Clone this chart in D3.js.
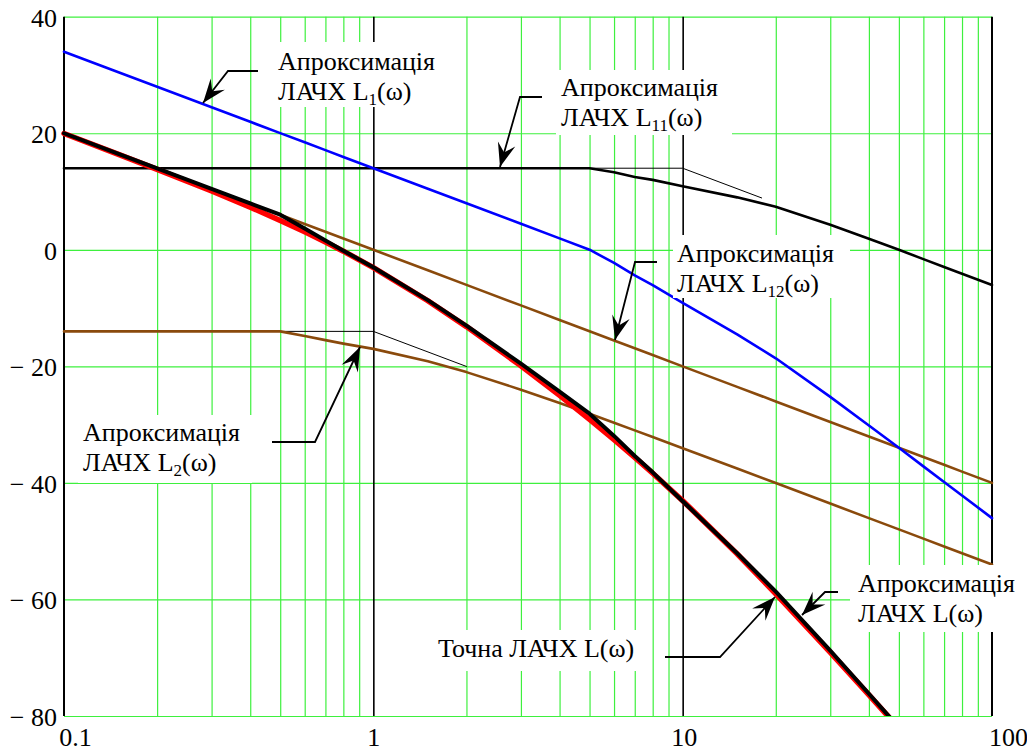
<!DOCTYPE html>
<html>
<head>
<meta charset="utf-8">
<script src="https://cdn.jsdelivr.net/npm/d3@7"></script>
<style>
  html, body { margin: 0; padding: 0; background: #fff; }
  svg { display: block; }
  text { font-family: "Liberation Serif", "Times New Roman", serif; fill: #000; }
</style>
</head>
<body>
<script>
// ---------------- DATA ----------------
const omega = [0.1,0.15,0.2,0.3,0.4,0.5,0.6,0.7,0.8,1,1.5,2,3,4,5,6,7,8,10,15,20,30,40,50,60,70,80,100];
// Approximation L1(ω) (blue)
const L1 = [34,30.48,27.98,24.46,21.96,20.02,18.44,17.10,15.94,14,10.48,7.98,4.46,1.96,0.02,-2.26,-4.4,-6.06,-9.1,-14.52,-18.62,-25.24,-30.14,-33.98,-37.16,-39.85,-42.16,-46.04];
// Approximation L11(ω) (black)
const L11 = [14,14,14,14,14,14,14,14,14,14,14,14,14,14,14,13.3,12.5,12.0,10.9,9.0,7.4,4.3,1.9,0.0,-1.6,-2.95,-4.1,-6.04];
// Approximation L12(ω) (brown)
const L12 = [20,16.48,13.98,10.46,7.96,6.02,4.44,3.10,1.94,0,-3.52,-6.02,-9.54,-12.04,-13.98,-15.56,-16.90,-18.06,-20,-23.52,-26.02,-29.54,-32.04,-33.98,-35.56,-36.90,-38.06,-40];
// Approximation L2(ω) (brown)
const L2 = [-14,-14,-14,-14,-14,-14,-14.8,-15.5,-16.1,-17.0,-19.12,-20.99,-24.0,-26.3,-28.15,-29.68,-30.99,-32.13,-34.04,-37.54,-40.03,-43.55,-46.04,-47.98,-49.56,-50.90,-52.06,-54.0];
// Approximation L(ω) (black, thick)
const Lapprox = [20,16.48,13.98,10.46,7.96,6.02,3.64,1.60,-0.16,-3.0,-8.64,-13.01,-19.54,-24.34,-28.13,-31.94,-35.39,-38.19,-43.14,-52.06,-58.65,-68.79,-76.18,-81.96,-86.72,-90.75,-94.22,-100.04];
// Exact L(ω) (red, thick)
const Lexact = [19.96,16.38,13.81,10.08,7.31,5.04,3.09,1.35,-0.24,-3.05,-8.74,-13.18,-19.91,-24.99,-29.10,-32.58,-35.62,-38.34,-43.05,-52.18,-59.04,-69.09,-76.38,-82.11,-86.8,-90.79,-94.25,-100.04];
// Asymptote segments (thin black)
const asymL11w = [5,10,18];
const asymL11v = [14,14,8.9];
const asymL2w = [0.5,1,2];
const asymL2v = [-14,-14,-20.02];

const xTicks = [0.1,1,10,100];
const xTickLabels = ["0.1","1","10","100"];
const yTicks = [40,20,0,-20,-40,-60,-80];
const yTickLabels = ["40","20","0","\u2212 20","\u2212 40","\u2212 60","\u2212 80"];
const xMinor = [0.2,0.3,0.4,0.5,0.6,0.7,0.8,0.9,2,3,4,5,6,7,8,9,20,30,40,50,60,70,80,90];
const xMajorBlack = [1,10];

(function () {
// ---------------- LAYOUT ----------------
const W = 1027, H = 753;
const pL = 64, pR = 992, pT = 16.7, pB = 716;
const svg = d3.select("body").append("svg").attr("width", W).attr("height", H);

const x = d3.scaleLog().domain([0.1, 100]).range([pL, pR]);
const y = d3.scaleLinear().domain([-80, 40]).range([pB, pT]);

const GREEN = "#3ef03e";

// grid: horizontal (green)
const gy = svg.append("g").attr("transform", `translate(${pL},0)`)
  .call(d3.axisLeft(y).tickValues(yTicks).tickSize(-(pR - pL)).tickFormat(""));
gy.select(".domain").remove();
gy.selectAll("line").attr("stroke", GREEN).attr("stroke-width", 1.2);

// grid: vertical minor (green)
const gx = svg.append("g").attr("transform", `translate(0,${pB})`)
  .call(d3.axisBottom(x).tickValues(xMinor).tickSize(-(pB - pT)).tickFormat(""));
gx.select(".domain").remove();
gx.selectAll("line").attr("stroke", GREEN).attr("stroke-width", 1.2);

// vertical major (black)
const gxm = svg.append("g").attr("transform", `translate(0,${pB})`)
  .call(d3.axisBottom(x).tickValues(xMajorBlack).tickSize(-(pB - pT)).tickFormat(""));
gxm.select(".domain").remove();
gxm.selectAll("line").attr("stroke", "#000").attr("stroke-width", 1.6);

// left & right axes (black)
svg.append("line").attr("x1", x(0.1)).attr("x2", x(0.1)).attr("y1", y(40)).attr("y2", y(-80))
  .attr("stroke", "#000").attr("stroke-width", 2);
svg.append("line").attr("x1", x(100)).attr("x2", x(100)).attr("y1", y(40)).attr("y2", y(-80))
  .attr("stroke", "#000").attr("stroke-width", 2);

// tick labels
const yl = svg.append("g").attr("transform", `translate(${pL},0)`)
  .call(d3.axisLeft(y).tickValues(yTicks).tickSize(0).tickPadding(7)
        .tickFormat((d, i) => yTickLabels[i]));
yl.select(".domain").remove();
yl.selectAll("text").attr("font-family", "Liberation Serif").attr("font-size", 26)
  .attr("dy", "0.36em");

const xOffsets = [11, 0, 1, 16];
const xl = svg.append("g").attr("transform", `translate(0,${pB})`)
  .call(d3.axisBottom(x).tickValues(xTicks).tickSize(0).tickPadding(12)
        .tickFormat((d, i) => xTickLabels[i]));
xl.select(".domain").remove();
xl.selectAll("text").attr("font-family", "Liberation Serif").attr("font-size", 26)
  .attr("dx", (d, i) => xOffsets[i]);

// ---------------- CURVES ----------------
svg.append("clipPath").attr("id", "plotclip").append("rect")
  .attr("x", pL - 3).attr("y", pT - 3).attr("width", pR - pL + 6).attr("height", pB - pT + 3);
const plot = svg.append("g").attr("clip-path", "url(#plotclip)");

const line = d3.line().x(d => x(d[0])).y(d => y(d[1]));
const zip = (ws, vs) => ws.map((w, i) => [w, vs[i]]);

function drawCurve(vals, color, width, ws) {
  plot.append("path").datum(zip(ws || omega, vals)).attr("d", line)
    .attr("fill", "none").attr("stroke", color).attr("stroke-width", width)
    .attr("stroke-linejoin", "round").attr("stroke-linecap", "round");
}
const BROWN = "#8a4a0c";
drawCurve(asymL11v, "#000", 1, asymL11w);
drawCurve(asymL2v, "#000", 1, asymL2w);
drawCurve(L2, BROWN, 2.6);
drawCurve(L12, BROWN, 2.6);
drawCurve(L11, "#000", 2.6);
drawCurve(L1, "#0000ff", 2.6);
drawCurve(Lexact, "#ff0000", 5.5);
drawCurve(Lapprox, "#000", 4);

// ---------------- ANNOTATIONS ----------------
const FS = 26;
const notes = [
  { box: [268, 42, 178, 65], tx: 278, base: 70, lines: [["Апроксимація"], ["ЛАЧХ L", "1", "(ω)"]],
    arrow: [[258, 71], [228, 71], [203, 103]] },
  { box: [556, 70, 176, 65], tx: 561, base: 96, lines: [["Апроксимація"], ["ЛАЧХ L", "11", "(ω)"]],
    arrow: [[542, 97], [520, 97], [500, 167]] },
  { box: [673, 235, 177, 63], tx: 677, base: 262, lines: [["Апроксимація"], ["ЛАЧХ L", "12", "(ω)"]],
    arrow: [[657, 262], [635, 262], [615, 340]] },
  { box: [78, 415, 174, 68], tx: 83, base: 441, lines: [["Апроксимація"], ["ЛАЧХ L", "2", "(ω)"]],
    arrow: [[272, 442], [315, 442], [360, 347]] },
  { box: [432, 630, 216, 41], tx: 438, base: 657, lines: [["Точна ЛАЧХ L(ω)"]],
    arrow: [[665, 657], [720, 657], [775, 597]] },
  { box: [850, 565, 172, 67], tx: 858, base: 592, lines: [["Апроксимація"], ["ЛАЧХ L(ω)"]],
    arrow: [[838, 592], [825, 592], [802, 615]] }
];

const ann = svg.append("g");
notes.forEach(n => {
  ann.append("rect").attr("x", n.box[0]).attr("y", n.box[1])
    .attr("width", n.box[2]).attr("height", n.box[3]).attr("fill", "#fff");
});
notes.forEach(n => {
  n.lines.forEach((parts, li) => {
    const t = ann.append("text").attr("x", n.tx).attr("y", n.base + li * 30)
      .attr("font-size", FS);
    if (parts.length === 1) {
      t.text(parts[0]);
    } else {
      t.append("tspan").text(parts[0]);
      t.append("tspan").attr("font-size", 17).attr("dy", 5).text(parts[1]);
      t.append("tspan").attr("dy", -5).text(parts[2]);
    }
  });
  const pts = n.arrow;
  ann.append("path").attr("d", d3.line()(pts)).attr("fill", "none")
    .attr("stroke", "#000").attr("stroke-width", 1.8);
  const tip = pts[pts.length - 1], from = pts[pts.length - 2];
  const dx = tip[0] - from[0], dy = tip[1] - from[1];
  const Ln = Math.hypot(dx, dy), ux = dx / Ln, uy = dy / Ln, px = -uy, py = ux;
  const len = 24, hw = 9, notch = 15;
  const bx = tip[0] - ux * len, by = tip[1] - uy * len;
  const nx = tip[0] - ux * notch, ny = tip[1] - uy * notch;
  ann.append("path").attr("d",
    `M${tip[0]},${tip[1]} L${bx + px * hw},${by + py * hw} L${nx},${ny} L${bx - px * hw},${by - py * hw} Z`)
    .attr("fill", "#000");
});
})();
</script>
</body>
</html>
